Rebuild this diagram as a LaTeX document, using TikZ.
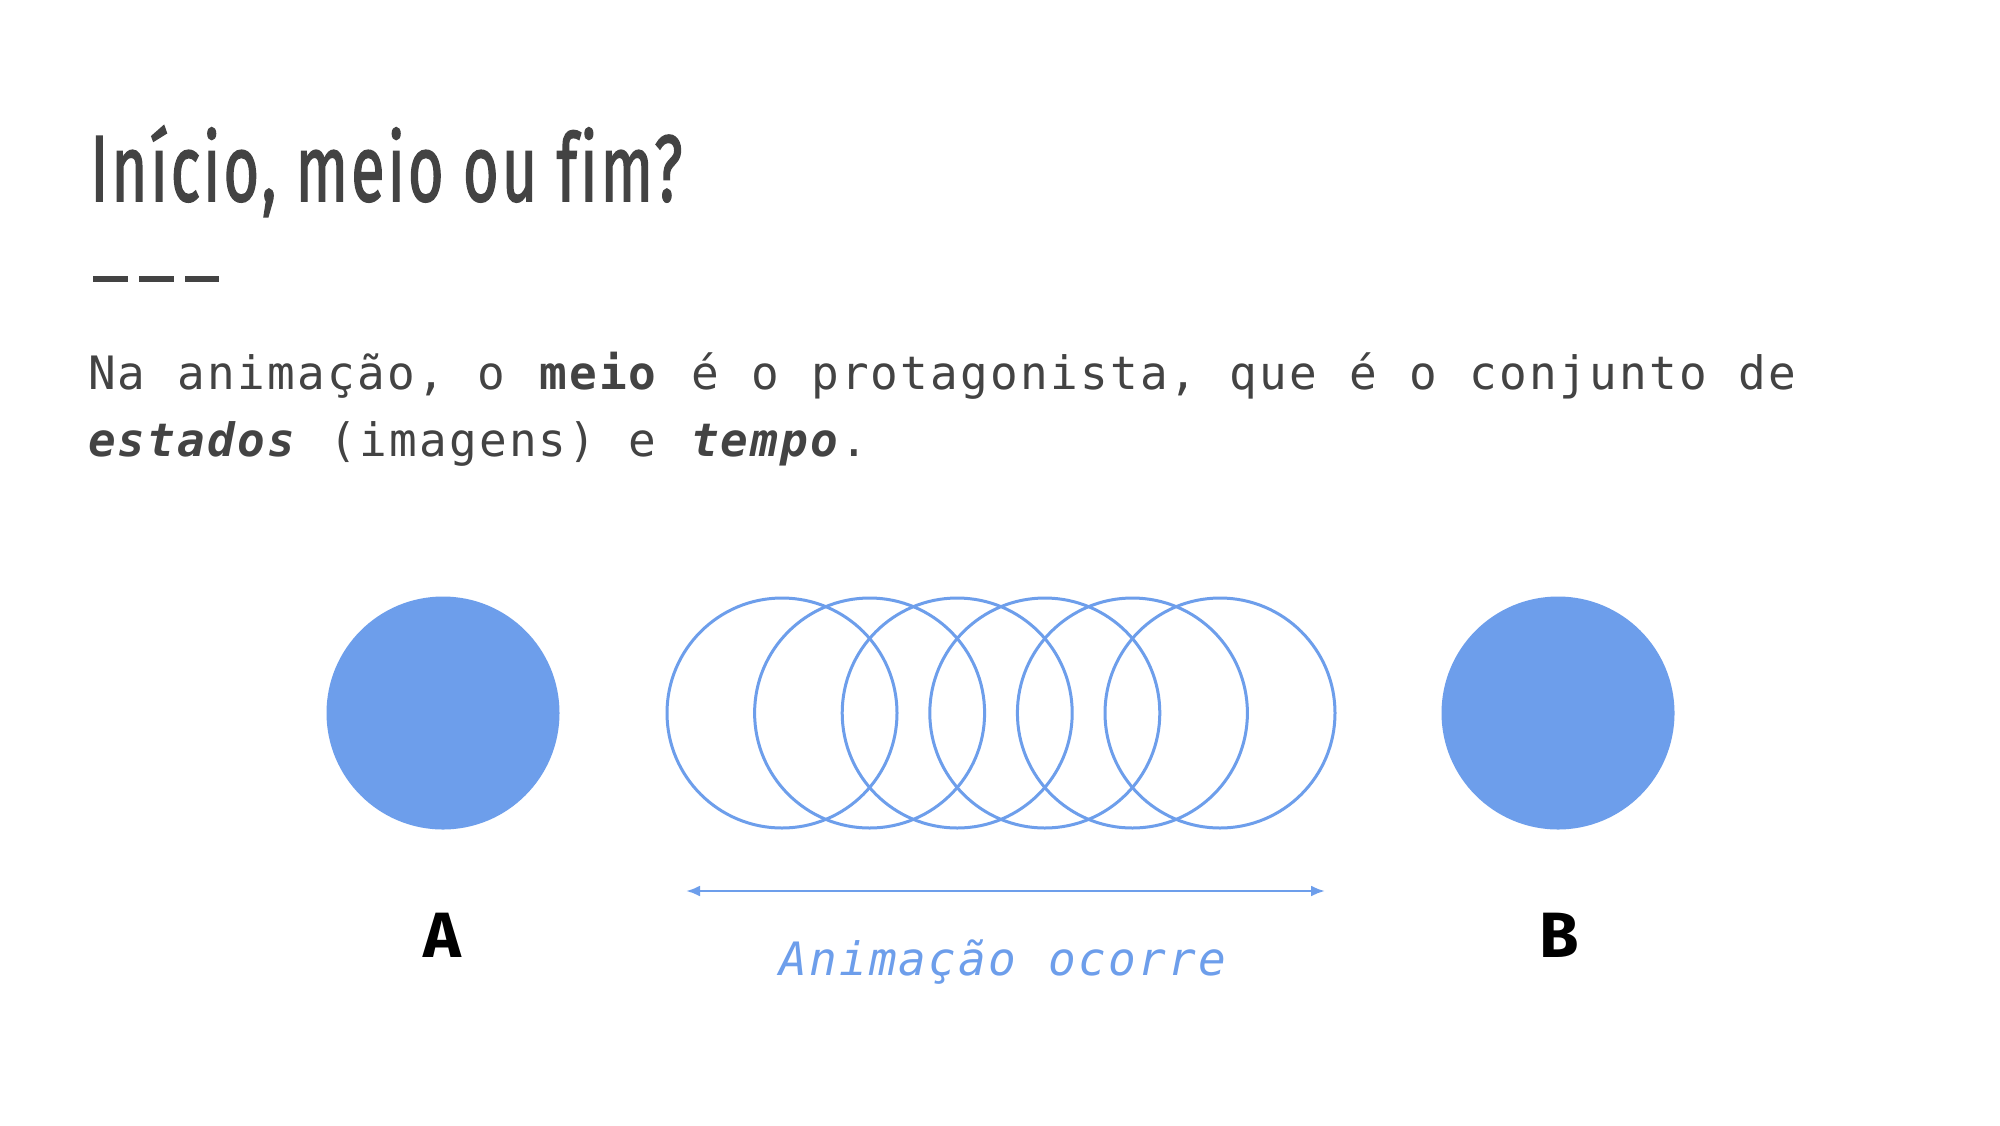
\documentclass[tikz,border=0pt]{standalone}
\usepackage{fontspec}
\usetikzlibrary{arrows.meta}
\newfontfamily\titlefont[Ligatures=NoCommon, LetterSpace=5, FakeBold=2]{Fira Sans}
\newfontfamily\bodyfont[LetterSpace=4.8, WordSpace=1.08]{DejaVu Sans Mono}
\newfontfamily\labelfont{Fira Sans}
\definecolor{txtgray}{HTML}{434343}
\definecolor{cblue}{HTML}{6D9EEB}
\tikzset{
  solidball/.style={circle, fill=cblue, draw=none, minimum size=116.5pt, inner sep=0pt},
  ring/.style={circle, draw=cblue, line width=1.5pt, minimum size=115pt, inner sep=0pt},
  bodytext/.style={anchor=base west, inner sep=0pt, outer sep=0pt, text=txtgray,
    font=\bodyfont\fontsize{23pt}{34pt}\selectfont},
  titletext/.style={anchor=base west, inner sep=0pt, text=txtgray,
    font=\titlefont\fontsize{47pt}{50pt}\selectfont},
  pointlabel/.style={anchor=base, inner sep=0pt, text=black,
    font=\labelfont\bfseries\fontsize{32pt}{34pt}\selectfont},
  animlabel/.style={anchor=base west, inner sep=0pt, text=cblue,
    font=\bodyfont\itshape\fontsize{23pt}{34pt}\selectfont},
  dashmark/.style={fill=txtgray},
  spanarrow/.style={draw=cblue, line width=1.3pt,
    {Latex[length=7pt,width=5.5pt]}-{Latex[length=7pt,width=5.5pt]}}
}
\begin{document}
\begin{tikzpicture}[x=0.5pt,y=-0.5pt]
\fill[white] (0,0) rectangle (2000,1125);
\useasboundingbox (0,0) rectangle (2000,1125);
% title
\node[titletext] (title) at (90,201) {\resizebox{296pt}{\height}{Início, meio ou fim?}};
% dashes
\fill[dashmark] (93,276) rectangle (128,282);
\fill[dashmark] (139,276) rectangle (174,282);
\fill[dashmark] (185,276) rectangle (219,282);
% body text
\node[bodytext] (line1) at (88,389) {Na animação, o \textbf{meio} é o protagonista, que é o conjunto de};
\node[bodytext] (line2) at (88,456) {\textbf{\textit{estados}} (imagens) e \textbf{\textit{tempo}}.};
% circles
\node[solidball] (ca) at (443,713) {};
\foreach \i in {0,...,5}{
  \node[ring] (r\i) at ({782+87.6*\i},713) {};
}
\node[solidball] (cb) at (1558,713) {};
% arrow
\coordinate (al) at (686,891);
\coordinate (ar) at (1325,891);
\draw[spanarrow] (al) -- (ar);
% labels
\node[pointlabel] (la) at (442,957) {A};
\node[pointlabel] (lb) at (1559,957) {B};
\node[animlabel] (anim) at (779,975) {Animação ocorre};
\end{tikzpicture}
\end{document}
